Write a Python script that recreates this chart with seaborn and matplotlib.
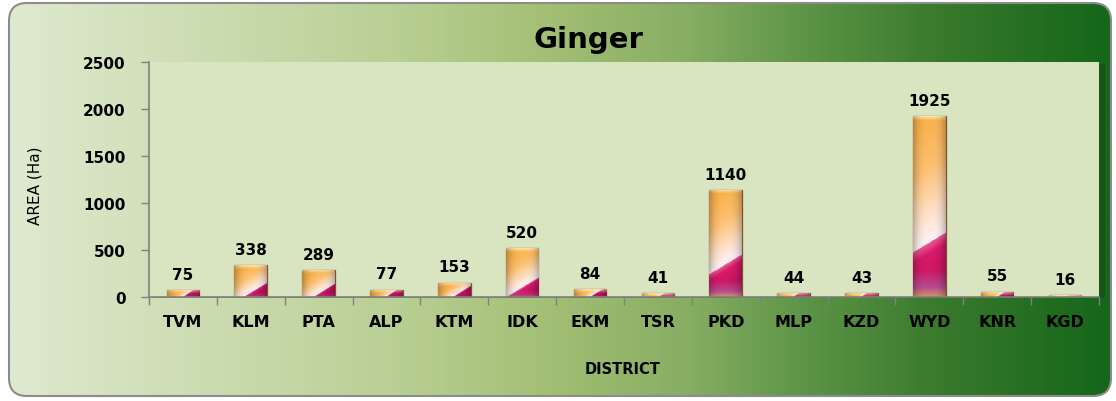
import numpy as np
import pandas as pd
import matplotlib
matplotlib.use("Agg")
import matplotlib.pyplot as plt
import seaborn as sns
from matplotlib.colors import LinearSegmentedColormap, to_rgb
from matplotlib.patches import FancyBboxPatch, Rectangle

districts = ["TVM", "KLM", "PTA", "ALP", "KTM", "IDK", "EKM",
             "TSR", "PKD", "MLP", "KZD", "WYD", "KNR", "KGD"]
area = [75, 338, 289, 77, 153, 520, 84, 41, 1140, 44, 43, 1925, 55, 16]
y_ticks = [0, 500, 1000, 1500, 2000, 2500]

df = pd.DataFrame({"district": districts, "area": area})

sns.set_style("white")
plt.rcParams["font.family"] = ["DejaVu Sans"]

W, H = 1116, 402
fig = plt.figure(figsize=(W / 100, H / 100), dpi=100)
fig.patch.set_facecolor("white")

# outer rounded box with green gradient
bg = fig.add_axes([0, 0, 1, 1], zorder=0)
bg.set_xlim(0, W)
bg.set_ylim(H, 0)
bg.axis("off")
bg_cmap = LinearSegmentedColormap.from_list("bg", [
    (0.0, "#dfe9cf"), (0.35, "#b9cf94"), (0.48, "#a5c076"),
    (0.62, "#86ad62"), (0.72, "#5e9548"), (0.85, "#38792c"), (1.0, "#15671a")])
grad = np.linspace(0, 1, 400).reshape(1, -1)
box = FancyBboxPatch((9, 4), 1102, 393, boxstyle="round,pad=0,rounding_size=18",
                     facecolor="none", edgecolor="#8c8c8c", linewidth=1.5)
bg.add_patch(box)
im = bg.imshow(grad, cmap=bg_cmap, extent=(9, 1111, 397, 4), aspect="auto")
im.set_clip_path(box)
# shadow behind plot area
bg.add_patch(Rectangle((153, 65), 952, 234, facecolor="#1f3f18", alpha=0.45,
                       edgecolor="none"))

# main plot area
left, right, top, zero = 149, 1099, 63, 298
ax = fig.add_axes([left / W, 1 - zero / H, (right - left) / W, (zero - top) / H], zorder=2)
sns.barplot(data=df, x="district", y="area", width=0.48, color="#f9b04a",
            edgecolor="#7a5030", linewidth=0.9, ax=ax)
ax.set_facecolor("#d9e4c0")
ax.set_yticks(y_ticks)
ax.set_xlabel("")
ax.set_ylabel("")

# glossy gradient inside each bar
upper_cmap = LinearSegmentedColormap.from_list("upper", [
    (0.0, "#fff2f8"), (0.22, "#ffe2cc"), (0.6, "#fdc070"), (1.0, "#f9b04a")])
lower_cmap = LinearSegmentedColormap.from_list("lower", [
    (0.0, "#c2125c"), (0.8, "#d8196a"), (1.0, "#ea5a92")])
purple = np.array(to_rgb("#b4589a"))
bottom_orange = np.array(to_rgb("#dca060"))
top_light = np.array(to_rgb("#fff4c4"))
px_per_unit = (zero - top) / 2500
for p in ax.patches:
    x0, w, h = p.get_x(), p.get_width(), p.get_height()
    wpx = w * (right - left) / len(districts)
    hpx = max(h * px_per_unit, 1)
    u = np.linspace(0, 1, 40)
    v = np.linspace(1, 0, 200)
    uu, vv = np.meshgrid(u, v)
    c = 0.3 * min(1.0, hpx / 75)
    s = vv - 0.6 * (uu - 0.5) * wpx / hpx
    d = np.clip((s - c) / (1 - c), 0, 1)
    e = np.clip(s / max(c, 1e-3), 0, 1)
    rgb = np.where((s >= c)[..., None], upper_cmap(d)[..., :3], lower_cmap(e)[..., :3])
    # purple / orange foot on tall bars
    ypx = vv * hpx
    strength = 0.85 * min(1.0, hpx / 110)
    f1 = (np.clip((0.15 * hpx - ypx) / (0.1 * hpx), 0, 1) * strength)[..., None]
    f2 = (np.clip((0.05 * hpx - ypx) / (0.05 * hpx), 0, 1) * strength)[..., None]
    low = (s < c)[..., None]
    foot = rgb * (1 - f1) + purple * f1
    foot = foot * (1 - f2) + bottom_orange * f2
    rgb = np.where(low, foot, rgb)
    # bright rim on top
    ft = np.clip((4 - (hpx - ypx)) / 4, 0, 1)[..., None] * 0.8
    rgb = rgb * (1 - ft) + top_light * ft
    # darker sides
    side = (1 - 0.25 * np.abs(uu - 0.5) ** 3 * 8)[..., None]
    rgb = np.clip(rgb * side, 0, 1)
    img = ax.imshow(rgb, extent=(x0, x0 + w, 0, h), aspect="auto",
                    interpolation="bilinear", zorder=p.get_zorder() + 0.1)
    img.set_clip_path(p)
ax.set_xlim(-0.5, len(districts) - 0.5)
ax.set_ylim(0, 2500)

ax.bar_label(ax.containers[0], padding=6, fontsize=11, fontweight="bold", color="black")

for side in ["top", "right"]:
    ax.spines[side].set_visible(False)
for side in ["left", "bottom"]:
    ax.spines[side].set_color("#808080")
    ax.spines[side].set_linewidth(1.2)

ax.tick_params(axis="y", length=6, width=1, color="#808080", pad=11, labelsize=11,
               labelcolor="black", left=True)
ax.set_xticks(np.arange(-0.5, len(districts), 1), minor=True)
ax.tick_params(axis="x", which="minor", length=6, width=1, color="#808080", bottom=True)
ax.tick_params(axis="x", which="major", length=0, pad=12, labelsize=11.5, labelcolor="black")
for lab in ax.get_xticklabels() + ax.get_yticklabels():
    lab.set_fontweight("bold")

fig.text(588 / W, 1 - 40 / H, "Ginger", ha="center", va="center",
         fontsize=21, fontweight="bold", color="black")
fig.text(35 / W, 1 - 186 / H, "AREA (Ha)", ha="center", va="center",
         rotation=90, fontsize=11, color="black")
fig.text(623 / W, 1 - 370 / H, "DISTRICT", ha="center", va="center",
         fontsize=10.5, fontweight="bold", color="black")

fig.savefig("out.png", dpi=100)
